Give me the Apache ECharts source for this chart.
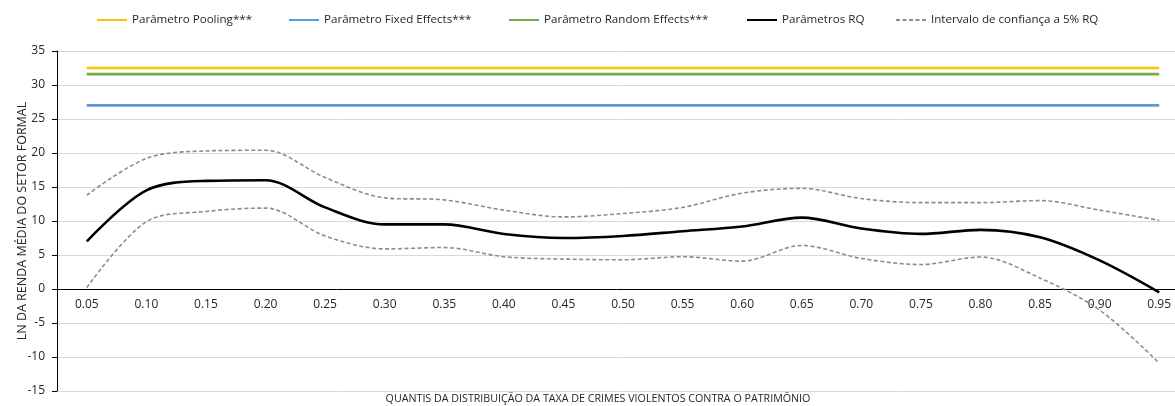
<!DOCTYPE html>
<html>
<head>
<meta charset="utf-8">
<script src="https://cdn.jsdelivr.net/npm/echarts@6/dist/echarts.min.js"></script>
<style>
  html, body { margin: 0; padding: 0; background: #fff; }
  #chart { width: 1175px; height: 406px; }
</style>
</head>
<body>
<div id="chart"></div>
<script>
// Quantiles of the distribution of violent property-crime rate
const quantis = ['0.05','0.10','0.15','0.20','0.25','0.30','0.35','0.40','0.45','0.50',
                 '0.55','0.60','0.65','0.70','0.75','0.80','0.85','0.90','0.95'];

// Quantile-regression coefficients and the 5% confidence band
const rq      = [7.0, 14.5, 15.9, 16.0, 12.0, 9.5, 9.5, 8.1, 7.5, 7.8,
                 8.5, 9.2, 10.5, 8.9, 8.1, 8.7, 7.6, 4.2, -0.5];
const rqUpper = [13.8, 19.2, 20.3, 20.4, 16.4, 13.4, 13.1, 11.6, 10.6, 11.1,
                 12.0, 14.1, 14.8, 13.3, 12.7, 12.7, 13.0, 11.6, 10.1];
const rqLower = [0.2, 9.9, 11.4, 11.9, 7.8, 5.9, 6.1, 4.75, 4.4, 4.3,
                 4.75, 4.1, 6.4, 4.5, 3.6, 4.7, 1.6, -3.1, -10.9];

// Panel-model parameters (constant across quantiles)
const pooling = 32.5;
const fixedEffects = 27.0;
const randomEffects = 31.6;

const yTicks = { min: -15, max: 35, interval: 5 };

const names = {
  pooling: 'Parâmetro Pooling***',
  fixed: 'Parâmetro Fixed Effects***',
  random: 'Parâmetro Random Effects***',
  rq: 'Parâmetros RQ',
  ci: 'Intervalo de confiança a 5% RQ'
};

const FONT = '"Open Sans", "Liberation Sans", sans-serif';
const first = quantis[0], last = quantis[quantis.length - 1];
const SMOOTH = 0.33;

// plot area (the right edge runs past the canvas, as in the original layout)
const GRID = { left: 57, right: -14, top: 51, bottom: 15 };
const plotH = 406 - GRID.top - GRID.bottom;
// distance from the bottom of the plot up to the zero line
const zeroOffset = plotH * (0 - yTicks.min) / (yTicks.max - yTicks.min);

function flat(name, value, color) {
  return {
    name, type: 'line', symbol: 'none', silent: true,
    data: [[first, value], [last, value]],
    lineStyle: { color, width: 2.6 },
    itemStyle: { color },
    z: 2
  };
}

function legendAt(left, name) {
  return {
    left, top: 14, data: [name], padding: 0,
    itemWidth: 30, itemHeight: 10, itemGap: 0,
    itemStyle: { opacity: 0 },
    textStyle: { fontFamily: FONT, fontSize: 11.6, color: '#262626' },
    selectedMode: false
  };
}

const chart = echarts.init(document.getElementById('chart'), null, { renderer: 'canvas' });

chart.setOption({
  animation: false,
  backgroundColor: '#fff',
  legend: [
    legendAt(96, names.pooling),
    legendAt(288, names.fixed),
    legendAt(508, names.random),
    legendAt(746, names.rq),
    legendAt(895, names.ci)
  ],
  grid: Object.assign({ containLabel: false, outerBoundsMode: 'none' }, GRID),
  xAxis: {
    type: 'category',
    data: quantis,
    boundaryGap: true,
    offset: -zeroOffset,
    axisLine: { onZero: false, lineStyle: { color: '#000', width: 1 } },
    axisTick: { show: false },
    axisLabel: { fontFamily: FONT, fontSize: 12, color: '#262626', margin: 10 },
    splitLine: { show: false }
  },
  yAxis: {
    type: 'value',
    min: yTicks.min, max: yTicks.max, interval: yTicks.interval,
    name: 'LN DA RENDA MÉDIA DO SETOR FORMAL',
    nameLocation: 'middle',
    nameMoveOverlap: false,
    nameGap: 28,
    nameTextStyle: { fontFamily: FONT, fontSize: 12.5, color: '#262626' },
    axisLine: { show: true, lineStyle: { color: '#000', width: 1 } },
    axisTick: { show: true, length: 5, lineStyle: { color: '#000' } },
    axisLabel: { fontFamily: FONT, fontSize: 12, color: '#262626', margin: 12 },
    splitLine: { show: true, lineStyle: { color: '#d9d9d9', width: 1 } }
  },
  graphic: [{
    type: 'text', x: 598, y: 399,
    style: {
      text: 'QUANTIS DA DISTRIBUIÇÃO DA TAXA DE CRIMES VIOLENTOS CONTRA O PATRIMÔNIO',
      fontFamily: FONT, fontSize: 10.7, fill: '#262626',
      textAlign: 'center', textVerticalAlign: 'middle'
    }
  }],
  series: [
    flat(names.pooling, pooling, '#FFC000'),
    flat(names.fixed, fixedEffects, '#5B9BD5'),
    flat(names.random, randomEffects, '#70AD47'),
    {
      name: names.rq, type: 'line', symbol: 'none', smooth: SMOOTH,
      data: rq,
      lineStyle: { color: '#000', width: 2.6 },
      itemStyle: { color: '#000' },
      z: 4
    },
    {
      name: names.ci, type: 'line', symbol: 'none', smooth: SMOOTH,
      data: rqUpper,
      lineStyle: { color: '#8c8c8c', width: 1.6, type: [4, 2.5] },
      itemStyle: { color: '#8c8c8c' },
      z: 3
    },
    {
      name: names.ci, type: 'line', symbol: 'none', smooth: SMOOTH,
      data: rqLower,
      lineStyle: { color: '#8c8c8c', width: 1.6, type: [4, 2.5] },
      itemStyle: { color: '#8c8c8c' },
      z: 3
    }
  ]
});
</script>
</body>
</html>
